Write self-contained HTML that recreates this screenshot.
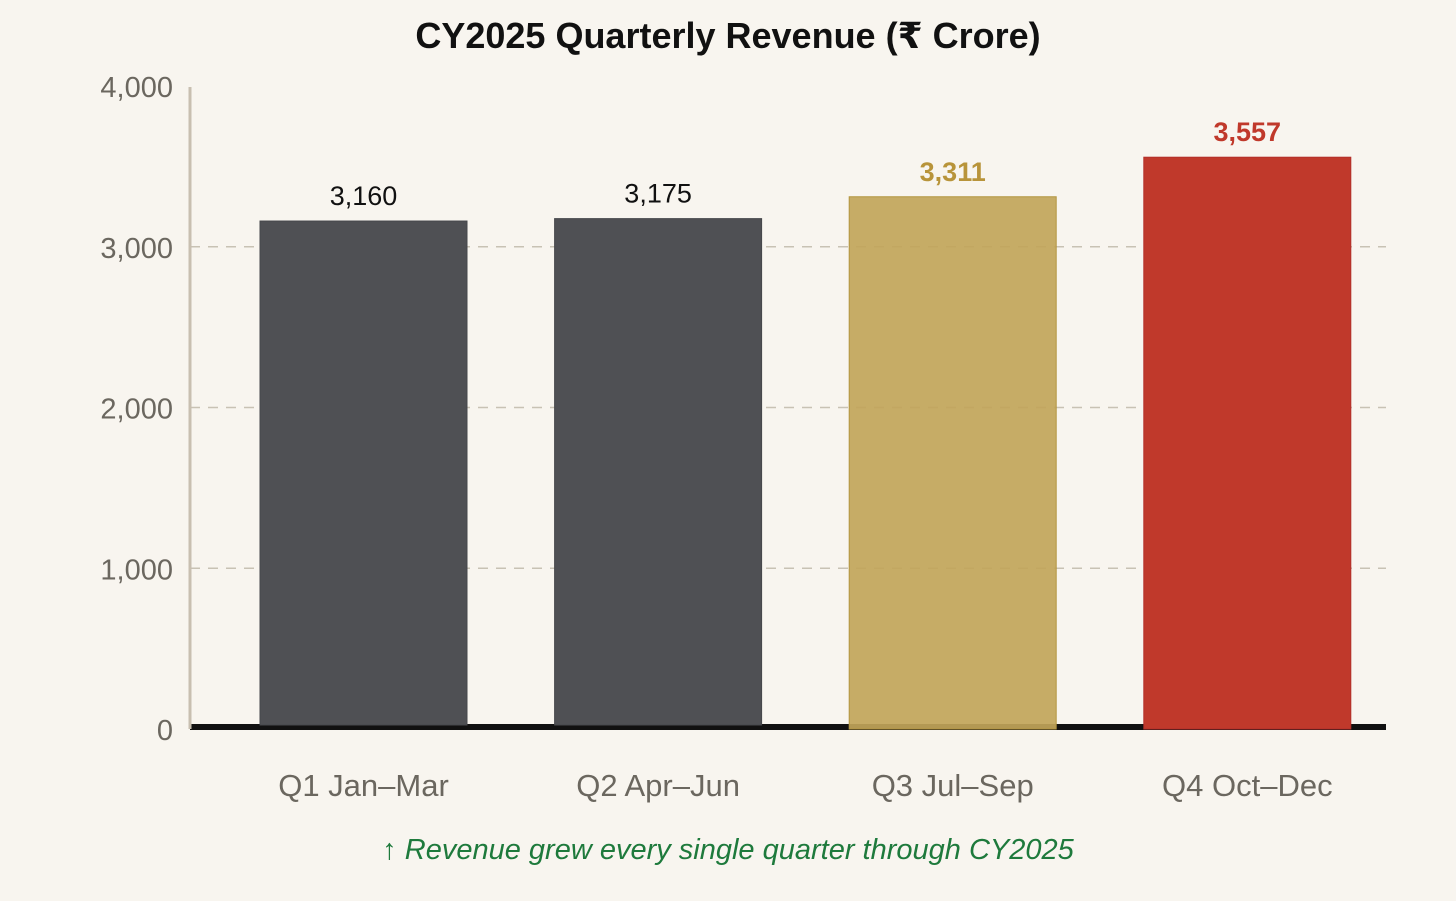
<!DOCTYPE html>
<html><head><meta charset="utf-8"><style>
html,body{margin:0;padding:0;background:#f8f5ef;}
svg{display:block;font-family:"Liberation Sans","DejaVu Sans",sans-serif;}
</style></head><body>
<svg id="chart" width="1456" height="901" viewBox="0 0 1456 901">
<rect width="1456" height="901" fill="#f8f5ef"/>
<text x="728" y="48" text-anchor="middle" font-size="36" font-weight="bold" fill="#111">CY2025 Quarterly Revenue (₹ Crore)</text>
<g id="grid"></g>
<line x1="190" y1="727" x2="1386" y2="727" stroke="#111" stroke-width="6"/>
<g id="bars"></g><g id="labels"></g>
<line x1="190" y1="87" x2="190" y2="729" stroke="#c8bfb0" stroke-width="3"/>
<text x="728" y="859" text-anchor="middle" font-size="29" font-style="italic" fill="#1e7a3c">↑ Revenue grew every single quarter through CY2025</text>
</svg>
<script>
const categories=["Q1 Jan–Mar","Q2 Apr–Jun","Q3 Jul–Sep","Q4 Oct–Dec"];
const values=[3160,3175,3311,3557];
const valueLabels=["3,160","3,175","3,311","3,557"];
const yTicks=[0,1000,2000,3000,4000];
const yTickLabels=["0","1,000","2,000","3,000","4,000"];
const NS="http://www.w3.org/2000/svg";
const y0=729,y1=86,yMax=4000;
function y(v){return y0-(v/yMax)*(y0-y1);}
function x(i){return 363.5+i*294.6;}
const bw=207;
const fills=["#4f5054","#4f5054","#c1a55a","#c0392b"];
const strokes=["#46474b","#46474b","#b3953f","#b3302a"];
const bottoms=[725,725,729,729];
const opac=[1,1,0.92,1];
const lblColor=["#111","#111","#b8943a","#c0392b"];
const lblWeight=["normal","normal","bold","bold"];
function mk(t,a,p,txt){const e=document.createElementNS(NS,t);for(const k in a)e.setAttribute(k,a[k]);if(txt!==undefined)e.textContent=txt;document.getElementById(p).appendChild(e);return e;}
yTicks.forEach((v,i)=>{
  if(v>0&&v<yMax){const g=mk("line",{x1:190,x2:1386,y1:y(v),y2:y(v),stroke:"#c8c2b4","stroke-width":1.5,"stroke-dasharray":"10,8"},"grid");
  
  }
  const t=mk("text",{x:173,y:y(v)+11,"text-anchor":"end","font-size":29,fill:"#6b675f"},"grid",yTickLabels[i]);
  
  
});
values.forEach((v,i)=>{
  const r=mk("rect",{x:x(i)-bw/2,y:y(v),width:bw,height:bottoms[i]-y(v),fill:fills[i],stroke:strokes[i],"stroke-width":1,"fill-opacity":opac[i]},"bars");
  
  
  const l=mk("text",{x:x(i),y:y(v)-16,"text-anchor":"middle","font-size":27,"font-weight":lblWeight[i],fill:lblColor[i]},"labels",valueLabels[i]);
  
  
  const c=mk("text",{x:x(i),y:796,"text-anchor":"middle","font-size":31,fill:"#6b675f"},"labels",categories[i]);
  
  
});
</script>
</body></html>
